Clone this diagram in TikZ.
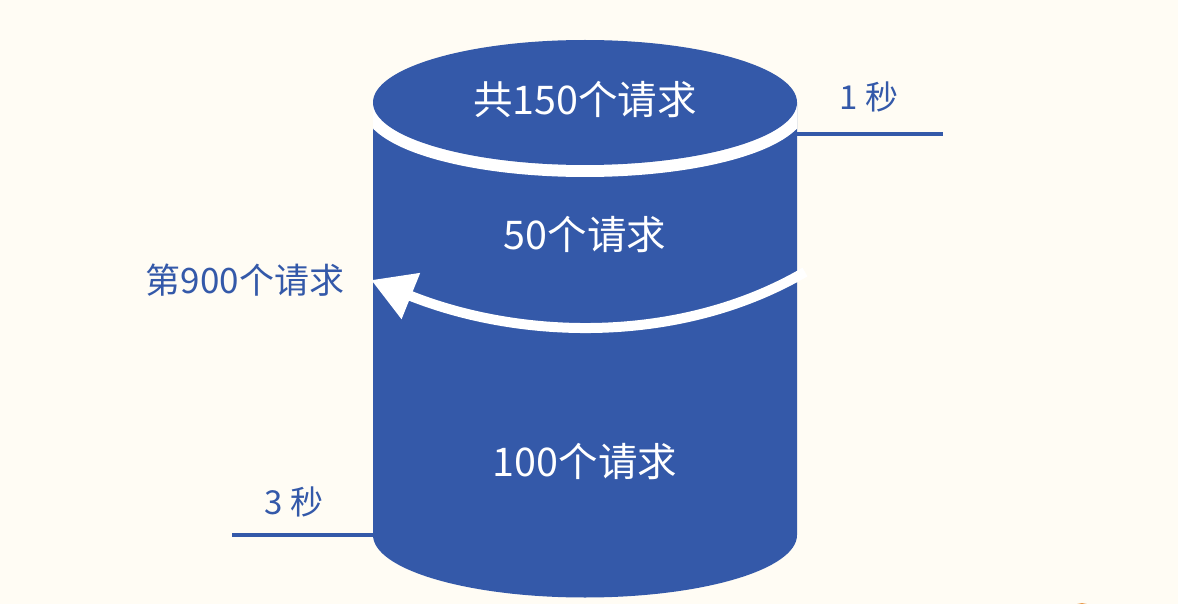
\documentclass[tikz,border=0pt]{standalone}
\usepackage{fontspec}
\newfontfamily\cjk{Noto Sans CJK SC}
\usetikzlibrary{arrows.meta}
\definecolor{bg}{HTML}{FFFCF4}
\definecolor{cyl}{HTML}{3459A9}
\definecolor{dot}{HTML}{E99A4C}
\tikzset{
  intext/.style={text=white, font=\cjk\fontsize{39.5pt}{41pt}\selectfont, inner sep=0pt},
  outtext/.style={text=cyl, font=\cjk\fontsize{35pt}{37pt}\selectfont, inner sep=0pt},
  sectext/.style={text=cyl, font=\cjk\fontsize{33pt}{35pt}\selectfont, inner sep=0pt},
  tick/.style={draw=cyl, line width=4pt},
  flow/.style={draw=white, line width=10pt, -{Triangle[length=43pt,width=47pt]}}
}
\begin{document}
\begin{tikzpicture}[x=1pt,y=-1pt]
\useasboundingbox (0,0) rectangle (1178,604);
\fill[bg] (0,0) rectangle (1178,604);
% small orange fragment at bottom edge
\begin{scope}
\clip (0,0) rectangle (1178,604);
\fill[dot] (1082,616) circle[radius=13pt];
\end{scope}
% cylinder body
\fill[cyl] (373,102.5) -- (373,535) arc[start angle=180, end angle=360, x radius=212pt, y radius=62.5pt] -- (797,102.5) -- cycle;
% white ring under the lid
\begin{scope}
\clip (373,102.5) rectangle (797,300);
\draw[white, line width=24pt] (585,102.5) ellipse[x radius=212pt, y radius=62.5pt];
\end{scope}
% lid
\fill[cyl] (585,102.5) ellipse[x radius=212pt, y radius=62.5pt];
% texts
\node[intext] (total) at (585,100) {共150个请求};
\node[intext] (fifty) at (585,235) {50个请求};
\node[intext] (hundred) at (585,462) {100个请求};
\node[outtext] (req900) at (245,280) {第900个请求};
\node[sectext] (one) at (869,97) {1 秒};
\node[sectext] (three) at (294,502) {3 秒};
% tick lines
\coordinate (t1a) at (797,134);
\coordinate (t1b) at (943,134);
\coordinate (t3a) at (232,535);
\coordinate (t3b) at (373,535);
\draw[tick] (t1a) -- (t1b);
\draw[tick] (t3a) -- (t3b);
% curved arrow
\coordinate (as) at (805,272);
\coordinate (ae) at (371,280);
\draw[flow] (as) .. controls (680,345) and (520,340) .. (ae);
\end{tikzpicture}
\end{document}
